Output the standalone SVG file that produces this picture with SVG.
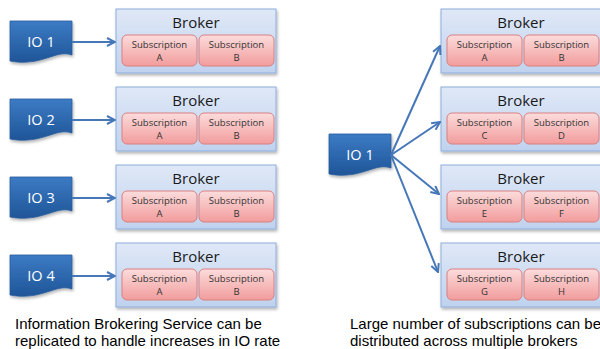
<svg xmlns="http://www.w3.org/2000/svg" width="600" height="349" viewBox="0 0 600 349">
  <defs>
    <linearGradient id="gIO" x1="0" y1="0" x2="0" y2="1">
      <stop offset="0" stop-color="#3c7bc4"/>
      <stop offset="1" stop-color="#1f5598"/>
    </linearGradient>
    <linearGradient id="gBroker" x1="0" y1="0" x2="0" y2="1">
      <stop offset="0" stop-color="#dfe8f7"/>
      <stop offset="1" stop-color="#bfd2ee"/>
    </linearGradient>
    <linearGradient id="gSub" x1="0" y1="0" x2="0" y2="1">
      <stop offset="0" stop-color="#fcdcdc"/>
      <stop offset="1" stop-color="#f29c9c"/>
    </linearGradient>
    <filter id="shadow" x="-10%" y="-10%" width="130%" height="140%">
      <feDropShadow dx="1" dy="2" stdDeviation="1.5" flood-color="#000" flood-opacity="0.3"/>
    </filter>
    <marker id="arrow" viewBox="0 0 10 10" refX="9" refY="5" markerWidth="5" markerHeight="5" orient="auto" markerUnits="strokeWidth">
      <path d="M1,1 L9,5 L1,9" fill="none" stroke="#4677b8" stroke-width="2" stroke-linejoin="miter"/>
    </marker>
    <!-- document-style source shape, 62 x 42 -->
    <path id="doc" d="M0,0 H62 V34 C46,28 32,46 0,40 Z"/>
    <!-- broker with two subscription boxes -->
    <g id="brokerBox">
      <rect x="0" y="0" width="160" height="64" fill="url(#gBroker)" stroke="#8eadda" stroke-width="1" filter="url(#shadow)"/>
      <text class="title" x="80" y="19">Broker</text>
      <rect x="6" y="26" width="75" height="31" rx="5" fill="url(#gSub)" stroke="#d98080" stroke-width="1"/>
      <rect x="83" y="26" width="75" height="31" rx="5" fill="url(#gSub)" stroke="#d98080" stroke-width="1"/>
      <text class="sub" x="43.5" y="39">Subscription</text>
      <text class="sub" x="120.5" y="39">Subscription</text>
    </g>
  </defs>
  <style>
    text { font-family: "Open Sans", "Liberation Sans", sans-serif; }
    .title { font-size: 15px; fill: #1a1a1a; text-anchor: middle; }
    .sub { font-size: 9.5px; fill: #333; text-anchor: middle; }
    .io { font-size: 14.5px; fill: #ffffff; text-anchor: middle; }
    .caption { font-family: "Liberation Sans", Arial, sans-serif; font-size: 15px; fill: #000; }
    .conn { stroke: #4677b8; stroke-width: 2; fill: none; marker-end: url(#arrow); }
    .docShape { fill: url(#gIO); stroke: #2a5d9c; stroke-width: 0.8; filter: url(#shadow); }
  </style>

  <rect width="600" height="349" fill="#ffffff"/>

  <!-- Left: one broker per IO source -->
  <g id="left-io-1">
    <use href="#doc" x="10" y="21" class="docShape"/>
    <text class="io" x="41" y="47">IO 1</text>
  </g>
  <g id="left-io-2">
    <use href="#doc" x="10" y="99" class="docShape"/>
    <text class="io" x="41" y="125">IO 2</text>
  </g>
  <g id="left-io-3">
    <use href="#doc" x="10" y="177" class="docShape"/>
    <text class="io" x="41" y="203">IO 3</text>
  </g>
  <g id="left-io-4">
    <use href="#doc" x="10" y="255" class="docShape"/>
    <text class="io" x="41" y="281">IO 4</text>
  </g>

  <g id="left-broker-1">
    <use href="#brokerBox" x="116" y="9"/>
    <text class="sub" x="159.5" y="61">A</text>
    <text class="sub" x="236.5" y="61">B</text>
  </g>
  <g id="left-broker-2">
    <use href="#brokerBox" x="116" y="87"/>
    <text class="sub" x="159.5" y="139">A</text>
    <text class="sub" x="236.5" y="139">B</text>
  </g>
  <g id="left-broker-3">
    <use href="#brokerBox" x="116" y="165"/>
    <text class="sub" x="159.5" y="217">A</text>
    <text class="sub" x="236.5" y="217">B</text>
  </g>
  <g id="left-broker-4">
    <use href="#brokerBox" x="116" y="243"/>
    <text class="sub" x="159.5" y="295">A</text>
    <text class="sub" x="236.5" y="295">B</text>
  </g>

  <!-- Right: one IO source fanned out to several brokers -->
  <g id="right-io-1">
    <use href="#doc" x="329" y="134" class="docShape"/>
    <text class="io" x="360" y="160">IO 1</text>
  </g>

  <g id="right-broker-1">
    <use href="#brokerBox" x="441" y="9"/>
    <text class="sub" x="484.5" y="61">A</text>
    <text class="sub" x="561.5" y="61">B</text>
  </g>
  <g id="right-broker-2">
    <use href="#brokerBox" x="441" y="87"/>
    <text class="sub" x="484.5" y="139">C</text>
    <text class="sub" x="561.5" y="139">D</text>
  </g>
  <g id="right-broker-3">
    <use href="#brokerBox" x="441" y="165"/>
    <text class="sub" x="484.5" y="217">E</text>
    <text class="sub" x="561.5" y="217">F</text>
  </g>
  <g id="right-broker-4">
    <use href="#brokerBox" x="441" y="243"/>
    <text class="sub" x="484.5" y="295">G</text>
    <text class="sub" x="561.5" y="295">H</text>
  </g>

  <g id="connectors">
    <line class="conn" x1="72" y1="42" x2="115" y2="42"/>
    <line class="conn" x1="72" y1="120" x2="115" y2="120"/>
    <line class="conn" x1="72" y1="198" x2="115" y2="198"/>
    <line class="conn" x1="72" y1="276" x2="115" y2="276"/>
    <line class="conn" x1="391" y1="155" x2="440" y2="46"/>
    <line class="conn" x1="391" y1="155" x2="440" y2="122"/>
    <line class="conn" x1="391" y1="155" x2="439" y2="194"/>
    <line class="conn" x1="391" y1="155" x2="438" y2="272"/>
  </g>

  <g id="captions">
    <text class="caption" x="15" y="329">Information Brokering Service can be</text>
    <text class="caption" x="15" y="346">replicated to handle increases in IO rate</text>
    <text class="caption" x="350" y="329">Large number of subscriptions can be</text>
    <text class="caption" x="350" y="346">distributed across multiple brokers</text>
  </g>
</svg>
